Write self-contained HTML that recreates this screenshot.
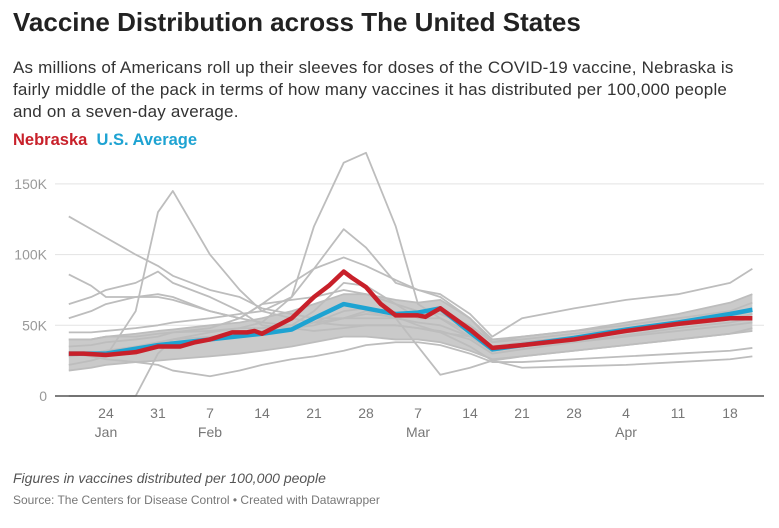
<!DOCTYPE html>
<html><head><meta charset="utf-8"><style>
body{margin:0;width:779px;height:528px;background:#fff;font-family:"Liberation Sans",sans-serif;overflow:hidden;position:relative}
.t{position:absolute;left:13px;margin:0}
</style></head><body>
<h1 class="t" style="top:7px;font-size:26px;font-weight:bold;color:#222">Vaccine Distribution across The United States</h1>
<p class="t" style="top:57px;font-size:17px;line-height:22px;color:#333;white-space:nowrap;letter-spacing:0.2px">As millions of Americans roll up their sleeves for doses of the COVID-19 vaccine, Nebraska is<br>fairly middle of the pack in terms of how many vaccines it has distributed per 100,000 people<br>and on a seven-day average.</p>
<div class="t" style="top:131px;font-size:16.5px;font-weight:bold"><span style="color:#c8202a">Nebraska</span>&nbsp; <span style="color:#1ea3d2">U.S. Average</span></div>
<svg id="c" width="779" height="528" style="position:absolute;left:0;top:0"></svg>
<p class="t" style="top:470px;font-size:14px;font-style:italic;color:#555">Figures in vaccines distributed per 100,000 people</p>
<p class="t" style="top:493px;font-size:12px;color:#777">Source: The Centers for Disease Control • Created with Datawrapper</p>
<script>
const days=[0,3,5,9,12,14,19,23,26,30,33,37,40,44,47,50,54,57,61,68,75,82,89,92];
const bandLow=[18,20,22,24,25,26,28,30,32,35,38,42,42,40,40,38,32,26,28,32,36,40,44,46];
const bandHigh=[40,40,42,44,46,47,50,52,55,60,65,72,72,68,66,68,55,40,42,46,52,58,66,72];
const greyA=[28,30,32,35,38,40,45,48,52,70,120,165,172,120,65,55,42,32,35,40,45,50,55,58];
const greyB=[22,25,28,60,130,145,100,75,60,55,52,50,50,50,48,46,40,30,33,38,43,48,52,55];
const greyC=[127,118,112,100,92,85,75,70,62,58,55,55,55,55,52,50,42,32,35,40,45,50,54,56];
const greyD=[86,78,70,70,70,68,60,55,52,50,60,80,78,65,55,55,45,32,35,38,42,46,50,52];
const greyE=[45,45,46,48,50,52,55,58,60,70,90,118,105,80,75,72,58,42,55,62,68,72,80,90];
const greyF=[40,40,42,42,44,45,46,48,48,50,52,55,60,55,35,15,20,25,28,32,36,40,44,48];
const greyG=[0,0,0,0,30,40,42,44,46,48,50,55,58,56,50,45,35,25,20,21,22,24,26,28];
const greyH=[30,28,26,24,22,18,14,18,22,26,28,32,36,38,38,36,30,24,24,26,28,30,32,34];
const greyI=[35,36,38,40,42,45,48,55,65,80,90,98,92,82,75,70,55,38,42,46,50,55,60,66];
const greyJ=[55,60,65,70,72,70,60,55,65,68,70,75,72,65,60,58,50,38,40,44,48,52,56,60];
const greyK=[65,70,75,80,88,80,70,60,50,48,46,48,50,50,48,45,42,35,38,42,46,50,54,58];
const greyMid=[28,30,32,34,36,38,40,42,44,48,52,60,62,58,58,60,46,34,36,40,46,50,56,62];
const nebDays=[0,2,5,9,12,15,17,19,22,24,25,26,30,33,35,37,38,40,42,44,47,48,50,54,57,61,68,75,82,89,92];
const nebraska=[30,30,29,31,35,35,38,40,45,45,46,44,55,70,78,88,84,77,65,57,57,56,62,47,34,36,40,46,51,55,55];
const usDays=[0,5,12,19,26,30,33,37,40,44,47,50,54,57,61,68,75,82,89,92];
const usAverage=[30,30,36,40,44,47,55,65,62,58,59,62,45,33,36,41,47,52,58,61];
const yTicks=[0,50,100,150];
const yTickLabels=["0","50K","100K","150K"];
const xTickDays=[5,12,19,26,33,40,47,54,61,68,75,82,89];
const xTickLabels=["24","31","7","14","21","28","7","14","21","28","4","11","18"];
const monthDays=[5,19,47,75];
const monthLabels=["Jan","Feb","Mar","Apr"];
const NS="http://www.w3.org/2000/svg";
const svg=document.getElementById('c');
const X=d=>68.8+d*7.43, Y=v=>396-v*1.414;
function mk(t,a){const e=document.createElementNS(NS,t);for(const k in a)e.setAttribute(k,a[k]);svg.appendChild(e);return e;}
yTicks.forEach((v,i)=>{
 if(v>0){const g=mk('line',{x1:55,x2:764,y1:Y(v),y2:Y(v),stroke:'#e3e3e3','stroke-width':1});
 
 }
 const t=mk('text',{x:47,y:Y(v)+5,'text-anchor':'end','font-size':14,fill:'#999','font-family':'Liberation Sans'});
 t.textContent=yTickLabels[i];
 
 
});
const band=mk('polygon',{points:days.map((d,i)=>X(d)+','+Y(bandHigh[i])).concat(days.map((d,i)=>X(d)+','+Y(bandLow[i])).reverse()).join(' '),fill:'#cacaca'});


[greyA,greyB,greyC,greyD,greyE,greyF,greyG,greyH,greyI,greyJ,greyK,greyMid,bandLow,bandHigh].forEach(s=>{
 const p=mk('polyline',{points:days.map((d,i)=>X(d)+','+Y(s[i])).join(' '),fill:'none',stroke:'#bdbdbd','stroke-width':1.8,'stroke-linejoin':'round'});
 
 
});
const base=mk('line',{x1:55,x2:764,y1:396,y2:396,stroke:'#555','stroke-width':1.5});


const us=mk('polyline',{points:usDays.map((d,i)=>X(d)+','+Y(usAverage[i])).join(' '),fill:'none',stroke:'#1ea3d2','stroke-width':4.5,'stroke-linejoin':'round'});


const ne=mk('polyline',{points:nebDays.map((d,i)=>X(d)+','+Y(nebraska[i])).join(' '),fill:'none',stroke:'#c8202a','stroke-width':4.5,'stroke-linejoin':'round'});


xTickDays.forEach((d,i)=>{
 const t=mk('text',{x:X(d),y:418,'text-anchor':'middle','font-size':14,fill:'#777','font-family':'Liberation Sans'});
 t.textContent=xTickLabels[i];
 
 
});
monthDays.forEach((d,i)=>{
 const t=mk('text',{x:X(d),y:437,'text-anchor':'middle','font-size':14,fill:'#777','font-family':'Liberation Sans'});
 t.textContent=monthLabels[i];
 
 
});
</script>
</body></html>
